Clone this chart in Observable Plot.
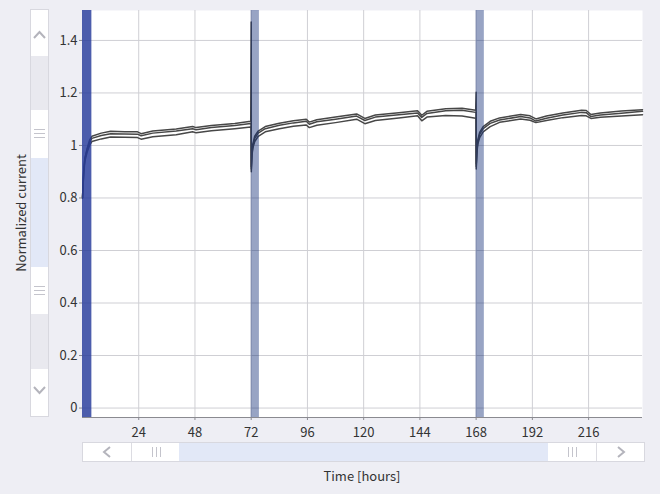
<!DOCTYPE html>
<html>
<head>
<meta charset="utf-8">
<script src="https://cdn.jsdelivr.net/npm/d3@7"></script>
<script src="https://cdn.jsdelivr.net/npm/@observablehq/plot@0.6"></script>
<style>
  html, body { margin: 0; padding: 0; background: #eeeef4; }
  #wrap { position: relative; width: 660px; height: 494px; overflow: hidden; background: #eeeef4;
          font-family: "Noto Sans CJK JP", "Noto Sans", sans-serif; }
  #chart { position: absolute; left: 0; top: 0; }
  .sb { position: absolute; box-sizing: border-box; }
  .seg { position: absolute; box-sizing: border-box; }
  .lbl { position: absolute; color: #333; font-size: 13px; white-space: nowrap; }
</style>
</head>
<body>
<div id="wrap">
  <div id="chart"></div>
  <div class="lbl" id="ylab" style="left:20px; top:213px; transform: translate(-50%,-50%) rotate(-90deg);">Normalized current</div>
  <div class="lbl" id="xlab" style="left:362px; top:475px; transform: translate(-50%,-50%);">Time [hours]</div>
</div>
<script>
// ---- data ----
const times = [0, 0.5, 1, 2, 3, 4, 8, 12, 18, 23.5, 25, 30, 40, 47, 48.5, 55, 65, 71.8,
  72, 72.05, 72.3, 72.7, 73.5, 75, 78, 84, 90, 95.5, 96.8, 100, 108, 117, 120.5, 125, 135, 143,
  144.8, 147, 155, 162, 167.8, 168, 168.05, 168.3, 168.7, 169.5, 171, 174, 178, 187, 191, 193.5,
  198, 205, 213, 215, 217, 221, 230, 239];
const seriesA = [0.80, 0.90, 0.95, 0.99, 1.02, 1.035, 1.047, 1.054, 1.052, 1.052, 1.045, 1.055, 1.063, 1.072, 1.068, 1.076, 1.084, 1.092,
  1.47, 0.90, 0.97, 1.005, 1.035, 1.055, 1.072, 1.085, 1.094, 1.100, 1.089, 1.098, 1.108, 1.120, 1.103, 1.116, 1.125, 1.132,
  1.115, 1.130, 1.140, 1.142, 1.134, 1.203, 0.91, 0.98, 1.02, 1.05, 1.072, 1.092, 1.105, 1.118, 1.113, 1.101,
  1.112, 1.124, 1.134, 1.133, 1.118, 1.124, 1.131, 1.136];
const seriesB = [0.80, 0.90, 0.95, 0.985, 1.01, 1.027, 1.038, 1.045, 1.044, 1.043, 1.037, 1.047, 1.055, 1.064, 1.060, 1.068, 1.076, 1.084,
  1.084, 0.91, 0.965, 0.998, 1.027, 1.047, 1.064, 1.077, 1.086, 1.092, 1.081, 1.090, 1.100, 1.112, 1.095, 1.108, 1.117, 1.124,
  1.107, 1.122, 1.132, 1.134, 1.126, 1.126, 0.92, 0.975, 1.013, 1.042, 1.064, 1.084, 1.097, 1.110, 1.105, 1.093,
  1.104, 1.116, 1.126, 1.125, 1.110, 1.116, 1.123, 1.130];
const seriesC = [0.80, 0.89, 0.94, 0.975, 1.00, 1.015, 1.025, 1.032, 1.031, 1.030, 1.024, 1.033, 1.041, 1.052, 1.048, 1.056, 1.064, 1.070,
  1.070, 0.92, 0.96, 0.99, 1.015, 1.035, 1.052, 1.064, 1.073, 1.078, 1.068, 1.077, 1.087, 1.100, 1.083, 1.095, 1.105, 1.113,
  1.094, 1.108, 1.114, 1.112, 1.104, 1.104, 0.93, 0.97, 1.005, 1.03, 1.052, 1.072, 1.088, 1.101, 1.096, 1.087,
  1.095, 1.106, 1.114, 1.113, 1.103, 1.107, 1.112, 1.117];
const seriesNames = ["A", "B", "C"];
const bandStart = [0, 72, 168];
const bandEnd = [4, 75.5, 171.5];
const bandKind = ["first", "later", "later"];
const xTicks = [24, 48, 72, 96, 120, 144, 168, 192, 216];
const yTicks = [0, 0.2, 0.4, 0.6, 0.8, 1, 1.2, 1.4];
const xDomain = [0, 239];
const yDomain = [-0.036, 1.514];

// ---- tables ----
const allSeries = [seriesA, seriesB, seriesC];
const rows = [];
allSeries.forEach((vals, k) => vals.forEach((v, i) => rows.push({t: times[i], v, s: seriesNames[k]})));
const bands = bandStart.map((s, i) => ({start: s, end: bandEnd[i], kind: bandKind[i]}));

const chart = Plot.plot({
  width: 660,
  height: 494,
  marginLeft: 82,
  marginRight: 18,
  marginTop: 10,
  marginBottom: 77,
  x: {domain: xDomain},
  y: {domain: yDomain},
  style: {background: "transparent", fontFamily: '"Noto Sans CJK JP", "Noto Sans", sans-serif', fontSize: "13px", color: "#333"},
  marks: [
    Plot.frame({fill: "white", stroke: null}),
    Plot.gridX(xTicks, {stroke: "#cfcfd4", strokeOpacity: 1}),
    Plot.gridY(yTicks, {stroke: "#cfcfd4", strokeOpacity: 1}),
    Plot.line(rows, {x: "t", y: "v", z: "s", stroke: "#474747", strokeWidth: 1.5}),
    Plot.rect(bands.filter(d => d.kind === "first"), {x1: "start", x2: "end", fill: "#25399a", fillOpacity: 0.82}),
    Plot.rect(bands.filter(d => d.kind === "later"), {x1: "start", x2: "end", fill: "#102c76", fillOpacity: 0.43}),
    Plot.ruleY([yDomain[0]], {stroke: "#8a8a90", strokeWidth: 1}),
    Plot.axisX(xTicks, {tickSize: 3, tickPadding: 7, stroke: "#8a8a90", fill: "#333", label: null}),
    Plot.axisY(yTicks, {tickSize: 3, tickPadding: 2, stroke: "#8a8a90", fill: "#333", label: null, tickFormat: d => String(d)})
  ]
});
document.getElementById("chart").appendChild(chart);

// ---- scrollbar decorations (UI chrome) ----
const wrap = document.getElementById("wrap");
function box(x, y, w, h, bg, border) {
  const d = document.createElement("div");
  d.className = "seg";
  d.style.left = x + "px"; d.style.top = y + "px"; d.style.width = w + "px"; d.style.height = h + "px";
  d.style.background = bg;
  if (border) d.style.border = "1px solid " + border;
  wrap.appendChild(d);
  return d;
}
function svgIn(d, w, h, inner) {
  d.innerHTML = `<svg width="${w}" height="${h}" style="position:absolute;left:0;top:0">${inner}</svg>`;
}
// vertical
box(30, 9, 19, 408, "#e9e9ef", "#d8d8df");
let a = box(31, 10, 17, 46, "white"); svgIn(a, 17, 46, '<polyline points="3,28 8.5,22 14,28" fill="none" stroke="#b4b4bc" stroke-width="2"/>');
a = box(31, 110, 17, 48, "white"); svgIn(a, 17, 48, '<g stroke="#c4c4cc" stroke-width="1"><line x1="3" y1="19.5" x2="14" y2="19.5"/><line x1="3" y1="23.5" x2="14" y2="23.5"/><line x1="3" y1="27.5" x2="14" y2="27.5"/></g>');
box(31, 158, 17, 109, "#e2e8f7");
a = box(31, 267, 17, 47, "white"); svgIn(a, 17, 47, '<g stroke="#c4c4cc" stroke-width="1"><line x1="3" y1="19.5" x2="14" y2="19.5"/><line x1="3" y1="23.5" x2="14" y2="23.5"/><line x1="3" y1="27.5" x2="14" y2="27.5"/></g>');
a = box(31, 369, 17, 47, "white"); svgIn(a, 17, 47, '<polyline points="3,18 8.5,24 14,18" fill="none" stroke="#b4b4bc" stroke-width="2"/>');
// horizontal
box(82, 442, 563, 20, "#e9e9ef", "#d8d8df");
a = box(83, 443, 48, 18, "white"); svgIn(a, 48, 18, '<polyline points="27,4 21,9 27,14" fill="none" stroke="#b4b4bc" stroke-width="2"/>');
a = box(131, 443, 48, 18, "white"); a.style.borderLeft = "1px solid #dcdce2"; svgIn(a, 48, 18, '<g stroke="#c4c4cc" stroke-width="1"><line x1="20.5" y1="4" x2="20.5" y2="14"/><line x1="24.5" y1="4" x2="24.5" y2="14"/><line x1="28.5" y1="4" x2="28.5" y2="14"/></g>');
box(179, 443, 369, 18, "#e2e8f7");
a = box(548, 443, 48, 18, "white"); svgIn(a, 48, 18, '<g stroke="#c4c4cc" stroke-width="1"><line x1="20.5" y1="4" x2="20.5" y2="14"/><line x1="24.5" y1="4" x2="24.5" y2="14"/><line x1="28.5" y1="4" x2="28.5" y2="14"/></g>');
a = box(596, 443, 48, 18, "white"); a.style.borderLeft = "1px solid #dcdce2"; svgIn(a, 48, 18, '<polyline points="21,4 27,9 21,14" fill="none" stroke="#b4b4bc" stroke-width="2"/>');
</script>
</body>
</html>
